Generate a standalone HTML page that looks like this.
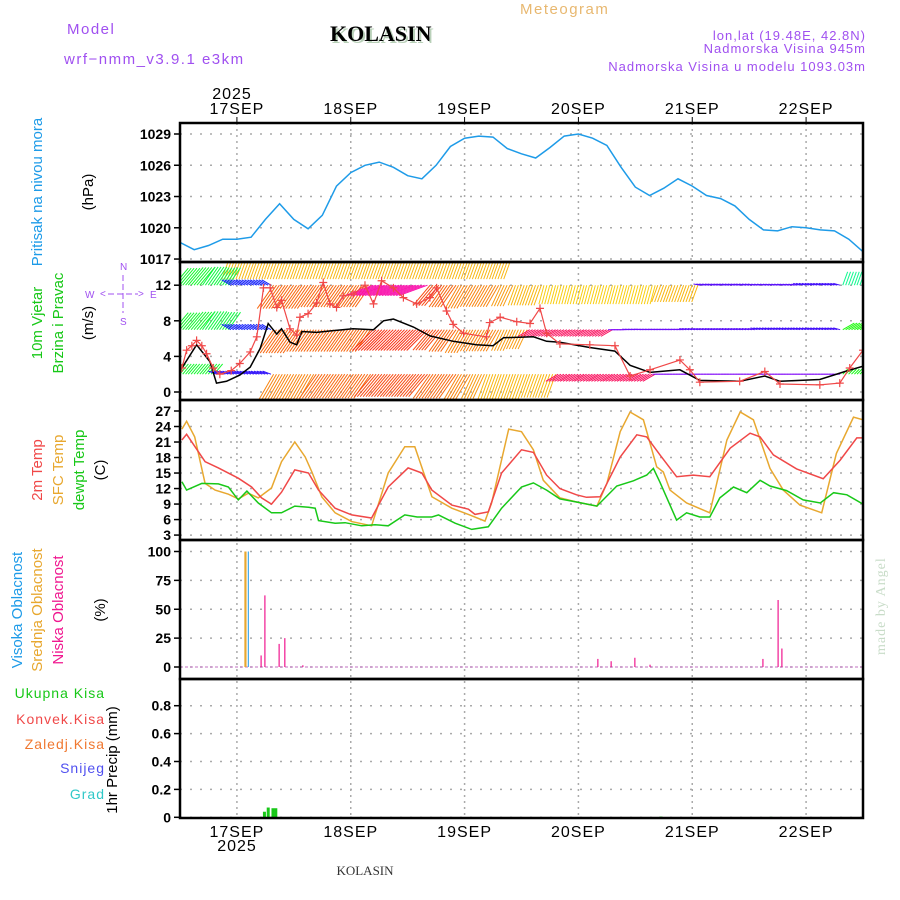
<!DOCTYPE html>
<html><head><meta charset="utf-8">
<style>
html,body{margin:0;padding:0;background:#fff;}
svg{display:block;font-family:"Liberation Sans",sans-serif;}
.tk{font-size:14px;font-weight:bold;fill:#000;}
.hd{font-size:15px;letter-spacing:1.5px;}
.yt{font-size:15px;}
</style></head>
<body>
<svg id="chart" width="900" height="900" viewBox="0 0 900 900">
<rect width="900" height="900" fill="#fff"/>
<text x="520" y="14" class="hd" fill="#e8b870">Meteogram</text>
<text x="67" y="34" class="hd" fill="#a050f0">Model</text>
<text x="64" y="64" class="hd" fill="#a050f0">wrf−nmm_v3.9.1 e3km</text>
<text x="332" y="43" font-family="Liberation Serif,serif" font-size="22" font-weight="bold" fill="#b8d0b8">KOLASIN</text>
<text x="330" y="41" font-family="Liberation Serif,serif" font-size="22" font-weight="bold" fill="#000">KOLASIN</text>
<text x="866" y="40" text-anchor="end" font-size="13" letter-spacing="1" fill="#a050f0">lon,lat (19.48E, 42.8N)</text>
<text x="866" y="53" text-anchor="end" font-size="13" letter-spacing="1" fill="#a050f0">Nadmorska Visina 945m</text>
<text x="866" y="71" text-anchor="end" font-size="13" letter-spacing="1" fill="#a050f0">Nadmorska Visina u modelu 1093.03m</text>
<text x="232" y="99" text-anchor="middle" font-size="16" letter-spacing="1">2025</text>
<text x="237" y="851" text-anchor="middle" font-size="16" letter-spacing="1">2025</text>
<text x="365" y="875" text-anchor="middle" font-family="Liberation Serif,serif" font-size="13" fill="#333">KOLASIN</text>
<text transform="translate(885,655) rotate(-90)" font-family="Liberation Serif,serif" font-size="14" fill="#c8dcc8" letter-spacing="1">made by Angel</text>

<text transform="translate(42,192) rotate(-90)" text-anchor="middle" class="yt" fill="#1e9be8">Pritisak na nivou mora</text>
<text transform="translate(93,192) rotate(-90)" text-anchor="middle" class="yt" fill="#000">(hPa)</text>
<text transform="translate(42,323) rotate(-90)" text-anchor="middle" class="yt" fill="#18c818">10m Vjetar</text>
<text transform="translate(63,323) rotate(-90)" text-anchor="middle" class="yt" fill="#18c818">Brzina i Pravac</text>
<text transform="translate(93,323) rotate(-90)" text-anchor="middle" class="yt" fill="#000">(m/s)</text>
<g fill="#a050f0" font-size="10">
<text x="120" y="270">N</text><text x="120" y="325">S</text><text x="85" y="298">W</text><text x="150" y="298">E</text>
<text x="100" y="297">&lt;</text><text x="138" y="297">&gt;</text>
<line x1="108" y1="294" x2="138" y2="294" stroke="#a050f0" stroke-dasharray="6,3"/>
<line x1="123" y1="275" x2="123" y2="313" stroke="#a050f0" stroke-dasharray="6,3"/>
</g>
<text transform="translate(42,470) rotate(-90)" text-anchor="middle" class="yt" fill="#f04848">2m Temp</text>
<text transform="translate(63,470) rotate(-90)" text-anchor="middle" class="yt" fill="#e8a830">SFC Temp</text>
<text transform="translate(84,470) rotate(-90)" text-anchor="middle" class="yt" fill="#18c818">dewpt Temp</text>
<text transform="translate(105,470) rotate(-90)" text-anchor="middle" class="yt" fill="#000">(C)</text>
<text transform="translate(22,610) rotate(-90)" text-anchor="middle" class="yt" fill="#1e9be8">Visoka Oblacnost</text>
<text transform="translate(42,610) rotate(-90)" text-anchor="middle" class="yt" fill="#e8a830">Srednja Oblacnost</text>
<text transform="translate(63,610) rotate(-90)" text-anchor="middle" class="yt" fill="#f01890">Niska Oblacnost</text>
<text transform="translate(105,610) rotate(-90)" text-anchor="middle" class="yt" fill="#000">(%)</text>
<g font-size="14" letter-spacing="1" text-anchor="end">
<text x="105" y="698" fill="#18c818">Ukupna  Kisa</text>
<text x="105" y="724" fill="#f04848">Konvek.Kisa</text>
<text x="105" y="749" fill="#f07830">Zaledj.Kisa</text>
<text x="105" y="773" fill="#5050f0">Snijeg</text>
<text x="105" y="799" fill="#30c8c8">Grad</text>
</g>
<text transform="translate(117,760) rotate(-90)" text-anchor="middle" class="yt" fill="#000">1hr Precip (mm)</text>
<g id="plot"></g>
</svg>
<script>
const dayLabels = ["17SEP","18SEP","19SEP","20SEP","21SEP","22SEP"];
const dayHours = [12,36,60,84,108,132];
const pressHours = [0,3,6,9,12,15,18,21,24,27,30,33,36,39,42,45,48,51,54,57,60,63,66,69,72,75,78,81,84,87,90,93,96,99,102,105,108,111,114,117,120,123,126,129,132,135,138,141,144];
const pressVals = [1018.6,1017.9,1018.3,1018.9,1018.9,1019.1,1020.8,1022.3,1020.8,1019.9,1021.2,1024,1025.3,1026,1026.3,1025.8,1025,1024.7,1026,1027.8,1028.6,1028.8,1028.7,1027.6,1027.1,1026.7,1027.7,1028.8,1029,1028.6,1027.9,1025.8,1023.9,1023.1,1023.8,1024.7,1024,1023.1,1022.8,1022.1,1020.8,1019.8,1019.7,1020.1,1020,1019.8,1019.7,1018.9,1017.7];
const pressTicks = [1017,1020,1023,1026,1029];
const windTicks = [0,4,8,12];
const tempTicks = [3,6,9,12,15,18,21,24,27];
const cloudTicks = [0,25,50,75,100];
const precipTicks = [0,0.2,0.4,0.6,0.8];
const precipTickLabels = ["0","0.2","0.4","0.6","0.8"];

const t2Hours = [0.4,1.4,5.3,8.1,12.3,15.1,17.2,19.3,21.4,24.2,27.1,29.2,32.7,36.2,40.4,43.9,48.1,51,53.1,57.3,60.8,62.2,65,67.8,72,74.5,77.3,80.1,83.6,85.7,88.6,92.8,96.3,98.4,101.2,104.7,108.2,111.7,116,120.2,122.3,125.1,130,135.6,139.2,142.7,144];
const t2Vals = [21.4,22.5,17.2,16,14,12.3,10.2,9,11.3,15.6,15,11.7,8.2,6.9,6.3,12.3,16,15,11.7,8.8,8,7,7.5,15,19.5,19,14.6,12,10.8,10.3,10.4,18.1,22.4,22,18.5,14.3,14.6,14.3,19.8,22.7,22,18.5,15.8,13.9,17.5,21.8,21.8];
const sfcHours = [0.4,1.4,3.1,5.3,7.4,10.2,12.3,14.4,16.5,19.3,21.4,24.2,26.4,27.8,29.9,32.7,36.2,40.4,43.9,47.4,49.5,53.1,57.3,60.8,64.3,65.7,69.3,72,74.5,76.6,80.1,83.6,87.9,90,92.8,94.9,97.7,100.5,101.9,103.3,106.8,111.7,115.3,118.1,120.9,124.4,127.2,130.7,135.3,138.4,142,144];
const sfcVals = [23.5,25,22,13,11.7,10.9,10,11.1,10.2,12.1,17.2,21,18.1,15.2,10.4,7.3,5.6,4.8,15,20.1,20.1,10.4,8.2,7,5.7,9.2,23.5,23,19.5,13.6,10.2,9.4,8.6,13,23,26.8,25.3,16.2,15.2,11.7,9.2,7.3,21.4,26.8,25.3,15.9,11.7,8.8,7.3,18.8,25.8,25.3];
const dewHours = [0.4,1.4,4.6,8.1,10.2,12.3,14.1,16.5,19.3,21.4,24.2,27.1,28.5,29.2,32.7,34.8,38.3,41.1,43.9,47.4,50,53.1,54.5,58,61.5,65,67.8,72,74.5,77.3,80.1,83.6,87.9,92.1,95.6,98.4,99.8,101.2,104.7,106.8,109.6,111.7,113.8,116.7,119.5,122.3,124.4,127.9,131.4,135,137.8,140.6,144];
const dewVals = [13.3,11.7,13,12.9,12.3,9.8,11.5,9.2,7.3,7.3,8.6,8.4,8.2,5.8,5.3,5.4,4.8,5,4.8,6.9,6.5,6.5,6.9,5.3,4.1,4.6,8.2,12.3,13.1,11.7,10,9.4,8.6,12.5,13.5,14.6,15.9,13.2,5.9,7.3,6.5,6.5,10.2,12.3,11.2,13.6,12.5,11.6,9.8,9.2,11.2,10.8,9];

const spdHours = [0.4,3.5,6.3,7.7,9.8,12.6,14.8,16.9,18.6,20.4,21.4,23.2,24.6,25.7,28.8,32.3,36.5,40.8,42.9,45,49.2,52.7,57.6,62.5,66,68.2,74.5,77.3,80.1,86.4,91.7,94.9,99.1,103.3,105.4,109.6,118,123.3,126.5,134.9,140.2,144];
const spdVals = [2.7,5.3,3.4,1.0,1.2,1.9,2.8,4.9,7.7,6.5,7.1,5.6,5.3,6.8,6.7,6.9,7.1,7,8,8.2,7.3,6.3,5.7,5.3,5.2,6.1,6.2,5.7,5.6,5,4.6,3,2.2,2.4,2.5,1.3,1.2,1.8,1.2,1.4,2.3,2.9];
const gustHours = [0.4,1.4,2.5,3.5,4.6,5.6,7,8.4,10.8,12.6,14.8,16.2,17.6,19,20.4,21.4,23.2,24.6,25.3,27,28.8,30.2,31.6,33,34.4,36.5,39,40.8,42.5,45,47.1,49.9,52.7,54.1,56.2,57.6,59.8,64.6,65.3,67.5,71,73.8,75.9,77.3,80.1,86.4,91.7,94.9,99.1,105.4,107.5,109.6,118,123.3,126.5,134.9,139.1,141.2,144];
const gustVals = [2.7,4.7,5.2,5.8,5.2,4.3,2.7,2,2.4,3.2,4.5,6.2,11.7,11.7,9.5,10.3,7.1,6.4,8.4,8.8,10,12.3,9.9,9.5,10.8,11,12,9.9,12.5,11.7,10.6,9.9,10.6,11.7,9.1,7.6,6.6,6.2,7.8,8.4,7.9,7.7,9.4,6.6,5.4,5.3,5.2,1.8,2.5,3.6,2.5,1.1,1.2,2.3,0.9,0.8,1,2.7,4.7];

const barbHours = pressHours;
const barbBase = [15.5,12,7,2];
const barbDir = [
 [200,200,200,200,200,200,200,200,200,200,200,200,200,200,200,200,200,200,200,200,200,200,200,200,200,200,200,200,200,200,200,200,200,200,200,200,200,200,200,200,200,200,200,200,200,200,200,200,200],
 [40,40,35,35,300,300,300,215,215,215,215,215,215,215,250,250,250,250,220,215,210,210,210,205,200,200,195,195,195,195,195,195,195,195,200,200,200,280,280,280,280,280,280,280,285,285,285,20,20],
 [40,40,35,35,300,300,300,215,215,215,215,215,215,215,225,225,225,225,220,215,210,210,210,205,205,240,240,240,240,240,240,270,275,275,275,275,280,280,280,280,280,285,285,285,285,285,285,60,60],
 [40,40,40,290,290,290,290,210,210,210,215,215,215,215,220,220,220,220,215,215,210,205,200,200,200,200,200,240,240,240,240,240,240,240,270,270,270,270,270,270,270,270,270,270,270,270,270,45,45]
];
const barbLen = [
 [0,0,0,0,3,3,3,3,3,3,3,3,3,3,3,3,3,3,3,3,3,3,3,3,0,0,0,0,0,0,0,0,0,0,0,0,0,0,0,0,0,0,0,0,0,0,0,0,0],
 [2.5,2.6,2.5,2.4,1.2,1.2,1.2,3.2,3.2,3.2,3,3,3,3,3.4,3.4,3.4,3.4,3,3,3,2.8,2.8,2.6,2.4,2.4,2.2,2.2,2.2,2.2,2.2,2.2,2.2,2.2,2,2,2,0.8,0.8,0.8,0.8,0.7,0.7,0.7,0.8,0.8,0.8,1.6,1.6],
 [2.5,2.6,2.5,2.4,1.2,1.2,1.2,3.2,3.2,3,3,3,3,3,3.3,3.3,3.3,3.3,3,3,3,2.8,2.8,2.6,2.4,1.5,1.5,1.5,1.5,1.5,1.5,0.8,0.8,0.8,0.8,0.8,0.8,0.8,0.8,0.8,0.8,0.8,0.8,0.8,0.8,0.8,0.8,1.5,1.5],
 [1.5,1.5,1.5,1,1,1,1,3.3,3.3,3.3,3.3,3.3,3.3,3.3,3.3,3.3,3.3,3.3,3.3,3.3,3.3,3,3,3,3,2.8,2.8,1.6,1.6,1.6,1.6,1.6,1.6,1.6,0.6,0.6,0.6,0.6,0.6,0.6,0.6,0.6,0.6,0.6,0.6,0.6,0.6,0.8,0.8]
];

const cloudHours = [13.8,14.4,17.1,17.9,20.9,22.1,25.9,88.1,90.9,95.9,99.1,122.9,126.1,126.9];
const cloudVals = [100,100,10,62,20,25,1.5,7,5,8,2,7,58,16];
const cloudType = ["mid","high","low","low","low","low","low","low","low","low","low","low","low","low"];
const precipHours = [17.8,18.6,19.6,20.2,101.4,124.6];
const precipVals = [0.04,0.07,0.065,0.065,0.005,0.003];

const X0=180, X1=863;
const xAt = h => X0 + h*(X1-X0)/144;
const yP = p => 134 + (1029-p)*10.42;
const yW = v => 392 - v*8.9;
const yT = t => 411 + (27-t)*5.17;
const yC = c => 667 - c*1.155;
const yR = r => 817.3 - r*139.5;
const panels = [[123,262],[262,400],[400,540],[540,679],[679,818]];
const NS="http://www.w3.org/2000/svg";
const plot=document.getElementById('plot');
function mk(tag,attrs,parent){const e=document.createElementNS(NS,tag);for(const k in attrs)e.setAttribute(k,attrs[k]);(parent||plot).appendChild(e);return e;}

const defs=mk('defs',{});
panels.forEach((p,i)=>{const c=mk('clipPath',{id:'clip'+i},defs);mk('rect',{x:X0,y:p[0],width:X1-X0,height:p[1]-p[0]},c);});

dayHours.forEach(h=>{
  const ln=mk('line',{x1:xAt(h),x2:xAt(h),y1:123,y2:818,stroke:'#aaa','stroke-dasharray':'2,4','stroke-width':1.5});
  
  
});
function hgrid(ticks,yf,labels,axisName){
  ticks.forEach((t,i)=>{
    const y=yf(t);
    const g=mk('line',{x1:X0,x2:X1,y1:y,y2:y,stroke:'#aaa','stroke-dasharray':'2,8','stroke-width':1.5});
    
    
    const tk=mk('line',{x1:X0-6,x2:X0,y1:y,y2:y,stroke:'#000','stroke-width':1.5});
    
    
    const tx=mk('text',{x:X0-9,y:y+5,'text-anchor':'end',class:'tk'});
    tx.textContent=labels?labels[i]:String(t);
    
    
  });
}
hgrid(pressTicks,yP,null,'pressure-axis');
hgrid(windTicks,yW,null,'wind-axis');
hgrid(tempTicks,yT,null,'temp-axis');
hgrid(cloudTicks,yC,null,'cloud-axis');
hgrid(precipTicks,yR,precipTickLabels,'precip-axis');

dayHours.forEach((h,i)=>{
  const a=mk('text',{x:xAt(h),y:114,'text-anchor':'middle','font-size':16,'letter-spacing':1});
  a.textContent=dayLabels[i];
  
  
  const b=mk('text',{x:xAt(h),y:837,'text-anchor':'middle','font-size':16,'letter-spacing':1});
  b.textContent=dayLabels[i];
  
  
  const t1=mk('line',{x1:xAt(h),x2:xAt(h),y1:117,y2:123,stroke:'#000'});
  
  
});

function line(hs,vs,yf,color,clip,name,w){
  const d=hs.map((h,i)=>(i?'L':'M')+xAt(h).toFixed(1)+','+yf(vs[i]).toFixed(1)).join('');
  const p=mk('path',{d:d,fill:'none',stroke:color,'stroke-width':w||1.5,'clip-path':'url(#clip'+clip+')'});
  
  
  return p;
}
line(pressHours,pressVals,yP,'#1e9be8',0,'pressure-line');

function hueFor(d){
  const stops=[[0,180],[45,120],[150,90],[190,55],[210,30],[230,0],[250,320],[270,270],[315,220],[360,180]];
  for(let i=1;i<stops.length;i++){if(d<=stops[i][0]){const a=stops[i-1],b=stops[i];const f=(d-a[0])/(b[0]-a[0]);let h1=a[1],h2=b[1];if(h2>h1+180)h2-=360; if(h1>h2+180)h1-=360;return ((h1+(h2-h1)*f)+360)%360;}}
  return 180;
}
barbBase.forEach((base,li)=>{
  barbHours.forEach((h,i)=>{
    const L=barbLen[li][i]; if(!L) return;
    const dir=barbDir[li][i]*Math.PI/180;
    const col='hsl('+hueFor(barbDir[li][i]).toFixed(0)+',95%,52%)';
    for(let k=0;k<5;k++){
      const x=xAt(h)+k*2.9-6, y=yW(base);
      const dx=Math.sin(dir)*L*8.9, dy=-Math.cos(dir)*L*8.9;
      const b=mk('line',{x1:x,y1:y,x2:x+dx,y2:y+dy,stroke:col,'stroke-width':1,'clip-path':'url(#clip1)'});
      
      
    }
  });
});
line(spdHours,spdVals,yW,'#000',1,'wind-speed-line');
line(gustHours,gustVals,yW,'#f04848',1,'wind-gust-line',1.2);
gustHours.forEach((h,i)=>{
  const x=xAt(h),y=yW(gustVals[i]);
  const m=mk('path',{d:`M${x-4},${y}h8M${x},${y-4}v8`,stroke:'#f04848','stroke-width':1.2,'clip-path':'url(#clip1)'});
  
  
});

line(sfcHours,sfcVals,yT,'#e8a830',2,'sfc-temp-line');
line(t2Hours,t2Vals,yT,'#f04848',2,'temp-2m-line');
line(dewHours,dewVals,yT,'#18c818',2,'dewpoint-line');

const ccol={high:'#1e9be8',mid:'#e8a830',low:'#f01890'};
const cb=mk('line',{x1:X0,x2:X1,y1:yC(0),y2:yC(0),stroke:'#c070c0','stroke-dasharray':'3,2','stroke-width':1});


cloudHours.forEach((h,i)=>{
  const w=cloudType[i]==='low'?1.2:(cloudType[i]==='mid'?2.2:1);
  const r=mk('rect',{x:xAt(h)-w/2,y:yC(cloudVals[i]),width:w,height:yC(0)-yC(cloudVals[i]),fill:ccol[cloudType[i]]});
  
  
});

precipHours.forEach((h,i)=>{
  const r=mk('rect',{x:xAt(h)-1.5,y:yR(precipVals[i]),width:3,height:yR(0)-yR(precipVals[i]),fill:'#18c818'});
  
  
});

panels.forEach((p,i)=>{
  const f=mk('rect',{x:X0,y:p[0],width:X1-X0,height:p[1]-p[0],fill:'none',stroke:'#000','stroke-width':2.5});
  
  
});
</script>
</body></html>
